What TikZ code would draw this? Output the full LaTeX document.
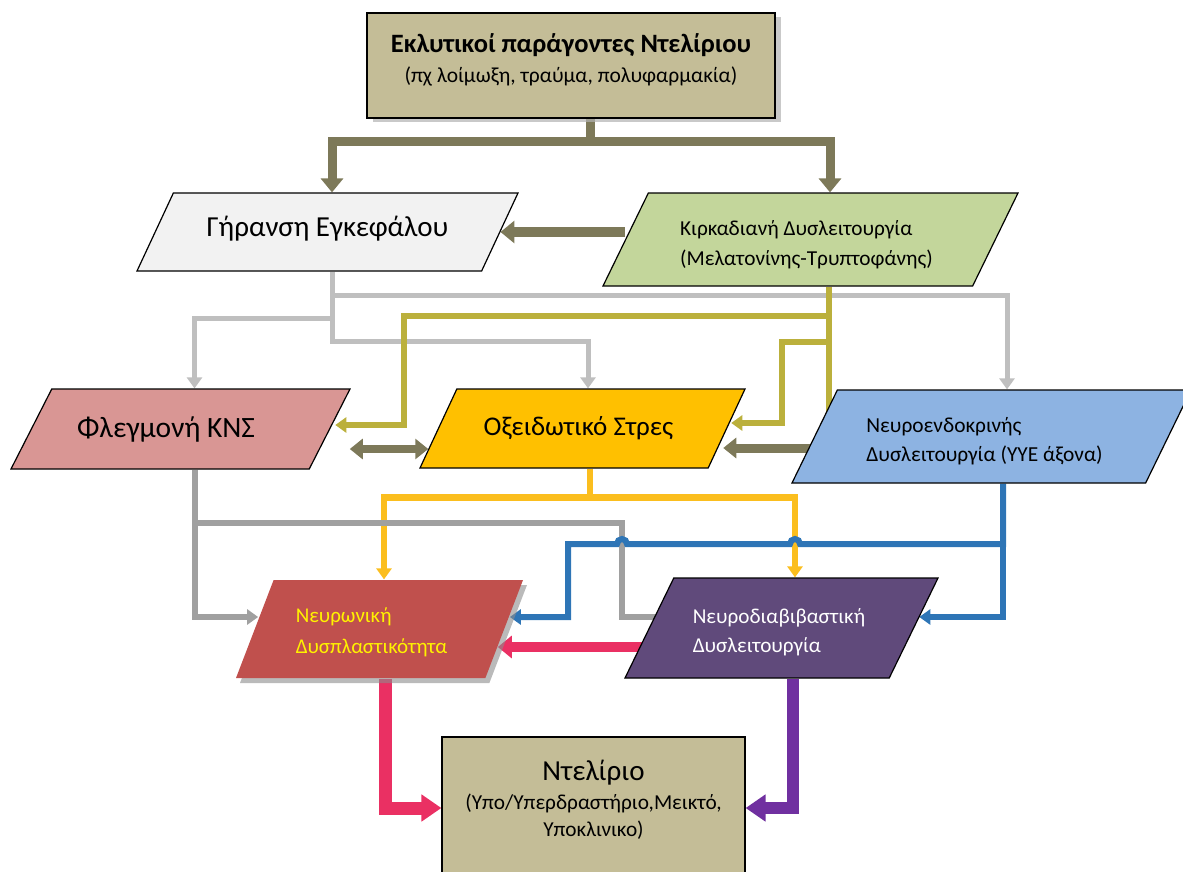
\documentclass[tikz,border=0pt]{standalone}
\usepackage{fontspec}
\setmainfont{Carlito}
\usetikzlibrary{shapes.geometric,arrows.meta,shadows,backgrounds}

\definecolor{tanfill}{RGB}{196,189,151}
\definecolor{girfill}{RGB}{242,242,242}
\definecolor{kirkfill}{RGB}{195,214,155}
\definecolor{flegfill}{RGB}{217,150,148}
\definecolor{oxifill}{RGB}{255,192,0}
\definecolor{neurofill}{RGB}{141,179,226}
\definecolor{dysfill}{RGB}{192,80,77}
\definecolor{ntfill}{RGB}{96,74,123}
\definecolor{olivedk}{RGB}{125,121,89}
\definecolor{ygold}{RGB}{187,176,60}
\definecolor{lgrey}{RGB}{191,191,191}
\definecolor{dgrey}{RGB}{160,160,160}
\definecolor{orng}{RGB}{251,190,30}
\definecolor{blu}{RGB}{46,117,182}
\definecolor{crim}{RGB}{234,48,99}
\definecolor{purp}{RGB}{112,48,160}

\begin{document}
\begin{tikzpicture}[x=1pt, y=-1pt,
    >={Triangle[length=11pt,width=15pt]},
    tanbox/.style={rectangle, draw=black, line width=1.2pt, fill=tanfill},
    para/.style 2 args={trapezium, trapezium stretches body, draw=black, line width=1.2pt,
        trapezium left angle=#1, trapezium right angle=#2, inner ysep=0pt},
    heavy/.style={-{Triangle[length=14pt,width=22pt]}},
    huge/.style={-{Triangle[length=20pt,width=26pt]}}]
    \useasboundingbox (0,0) rectangle (1183,872);

    \node[tanbox, minimum width=408pt, minimum height=105pt,
        drop shadow={shadow xshift=6pt, shadow yshift=-4pt, fill=black!30, opacity=.7},
        label={[align=center, yshift=6pt, font=\fontsize{21.5}{25}\selectfont]center:{{\bfseries\fontsize{26.5}{31}\selectfont Εκλυτικοί παράγοντες Ντελίριου}\\[5pt](πχ λοίμωξη, τραύμα, πολυφαρμακία)}}]
        (trig) at (571,65.5) {};

    \node[para={65}{115}, fill=girfill, minimum width=381pt, text height=39pt, text depth=39pt,
        label={[yshift=3pt, font=\fontsize{29}{34}\selectfont]center:{Γήρανση Εγκεφάλου}}]
        (gir) at (327.5,232) {};
    \node[para={64}{116}, fill=kirkfill, minimum width=415pt, text height=46.5pt, text depth=46.5pt,
        label={[align=left, xshift=-4pt, yshift=-5pt, font=\fontsize{21.3}{30}\selectfont]center:{Κιρκαδιανή Δυσλειτουργία\\ (Μελατονίνης-Τρυπτοφάνης)}}]
        (kirk) at (810.5,239.5) {};

    \node[para={63}{117}, fill=flegfill, minimum width=339pt, text height=40pt, text depth=40pt,
        label={[xshift=-14.5pt, font=\fontsize{29.5}{34}\selectfont]center:{Φλεγμονή ΚΝΣ}}]
        (fleg) at (180.5,429) {};
    \node[para={65}{115}, fill=oxifill, minimum width=325pt, text height=39.5pt, text depth=39.5pt,
        label={[xshift=-4pt, font=\fontsize{27}{32}\selectfont]center:{Οξειδωτικό Στρες}}]
        (oxi) at (582.5,428.5) {};
    \node[para={64}{116}, fill=neurofill, minimum width=399pt, text height=46.5pt, text depth=46.5pt,
        label={[align=left, xshift=-7pt, yshift=-5pt, font=\fontsize{21.4}{29}\selectfont]center:{Νευροενδοκρινής\\Δυσλειτουργία (ΥΥΕ άξονα)}}]
        (neuro) at (991.5,436.5) {};

    \node[para={69}{111}, draw=none, fill=dysfill, minimum width=287pt, text height=49pt, text depth=49pt,
        drop shadow={shadow xshift=4pt, shadow yshift=-5pt, fill=black!45, opacity=.6},
        label={[align=left, text=yellow, xshift=-8pt, yshift=-3.5pt, font=\fontsize{21}{31}\selectfont]center:{Νευρωνική\\Δυσπλαστικότητα}}]
        (dysp) at (379.5,629) {};
    \node[para={64}{116}, fill=ntfill, minimum width=313pt, text height=50pt, text depth=50pt,
        label={[align=left, text=white, xshift=-2.5pt, yshift=-4.5pt, font=\fontsize{21.2}{29}\selectfont]center:{Νευροδιαβιβαστική\\Δυσλειτουργία}}]
        (ntrans) at (781.5,628) {};

    \node[tanbox, minimum width=303pt, minimum height=170pt] (delir) at (593.5,822) {};
    \node[align=center, font=\fontsize{21.3}{27}\selectfont] (delirtext) at (593.5,800)
        {{\fontsize{29}{34}\selectfont Ντελίριο}\\[2pt](Υπο/Υπερδραστήριο,Μεικτό,\\Υποκλινικο)};

    \begin{pgfonlayer}{background}
    % top split
    \draw[olivedk, line width=9pt] ([xshift=19pt]trig.south) -- ++(0,23) coordinate (topsplit);
    \draw[olivedk, line width=9pt, heavy] (topsplit) -| ([xshift=4.5pt]gir.north);
    \draw[olivedk, line width=9pt, heavy] (topsplit) -| ([xshift=19.5pt]kirk.north);
    \draw[olivedk, line width=10pt, heavy] ([yshift=7.5pt]kirk.west) -- (gir.east);

    % ageing
    \draw[lgrey, line width=5pt, ->] ([xshift=4.5pt]gir.south) -- ++(0,24) -| ([xshift=15.5pt]neuro.north);
    \draw[lgrey, line width=5pt, ->] ([xshift=4.5pt]gir.south) -- ++(0,47) -| ([xshift=14pt]fleg.north);
    \draw[lgrey, line width=5pt, ->] ([xshift=4.5pt]gir.south) -- ++(0,70) -| ([xshift=5.5pt]oxi.north);

    % circadian
    \draw[ygold, line width=6pt] ([xshift=18.5pt]kirk.south) -- ([xshift=18.5pt]kirk.south |- neuro.west);
    \draw[ygold, line width=6pt, ->] ([xshift=18.5pt]kirk.south) |- (404,316) |- ([xshift=5pt,yshift=4pt]fleg.east);
    \draw[ygold, line width=6pt, ->] ([xshift=18.5pt]kirk.south) |- (782,342) |- ([xshift=4pt,yshift=5.5pt]oxi.east);

    \draw[olivedk, line width=8pt, {Triangle[length=13pt,width=20pt]}-{Triangle[length=13pt,width=20pt]}]
        ([xshift=19.5pt,yshift=-20pt]fleg.east) -- ([xshift=-9.5pt,yshift=-20.5pt]oxi.west);
    \draw[olivedk, line width=9pt, -{Triangle[length=13pt,width=20pt]}]
        ([yshift=-11.5pt]neuro.west) -- ([xshift=-4pt,yshift=-19.5pt]oxi.east);

    % second row
    \draw[orng, line width=6.5pt, ->] ([xshift=7.5pt]oxi.south) -- ++(0,29) -| ([xshift=4.5pt]dysp.north);
    \draw[orng, line width=6.5pt, ->] ([xshift=7.5pt]oxi.south) -- ++(0,29) -| ([xshift=13.5pt]ntrans.north);
    \draw[dgrey, line width=6pt, ->] ([xshift=14.5pt]fleg.south) |- ([xshift=4pt,yshift=12pt]dysp.west);
    \draw[dgrey, line width=6pt] ([xshift=14.5pt]fleg.south) |- (622,523) |- ([xshift=6pt,yshift=11pt]ntrans.west);
    \draw[blu, line width=6pt, ->] ([xshift=11.5pt]neuro.south) |- ([xshift=5pt,yshift=11pt]ntrans.east);
    \draw[blu, line width=6pt, ->] ([xshift=11.5pt]neuro.south) |- (800,544)
        arc[start angle=0, end angle=-180, radius=5] -- (627,544)
        arc[start angle=0, end angle=-180, radius=5] -- (568,544)
        |- ([xshift=5pt,yshift=12pt]dysp.east);
    \draw[crim, line width=10pt, heavy] ([yshift=-19pt]ntrans.west) -- ([xshift=-7pt,yshift=-18pt]dysp.east);

    % delirium
    \draw[crim, line width=13pt, huge] ([xshift=5.5pt]dysp.south) |- ([yshift=14pt]delir.west);
    \draw[purp, line width=12pt, huge] ([xshift=11.5pt]ntrans.south) |- ([yshift=14pt]delir.east);
    \end{pgfonlayer}
\end{tikzpicture}
\end{document}
